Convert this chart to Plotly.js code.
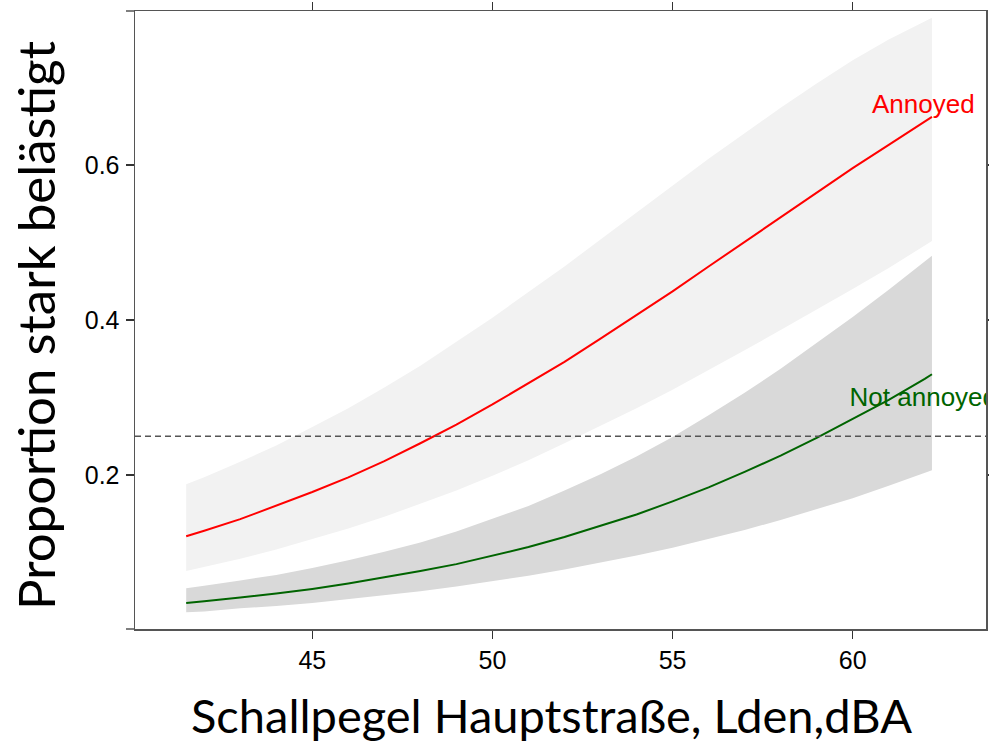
<!DOCTYPE html>
<html>
<head>
<meta charset="utf-8">
<script src="https://cdn.plot.ly/plotly-3.0.1.min.js"></script>
<style>
  html, body { margin: 0; padding: 0; background: #fff; }
  #plot { width: 989px; height: 745px; }
</style>
</head>
<body>
<div id="plot"></div>
<script>
// Road noise level (Lden, dBA) at which the curves are evaluated
const lden = [41.5, 42, 43, 44, 45, 46, 47, 48, 49, 50, 51, 52, 53, 54, 55,
              56, 57, 58, 59, 60, 61, 62, 62.2];

// Group "Annoyed": fitted proportion highly annoyed and its confidence band
const annoyedFit = [0.121, 0.128, 0.143, 0.160, 0.178, 0.197, 0.218, 0.241, 0.265, 0.291,
                    0.318, 0.346, 0.376, 0.406, 0.437, 0.469, 0.501, 0.533, 0.565, 0.596,
                    0.626, 0.656, 0.662];
const annoyedLow = [0.076, 0.081, 0.092, 0.104, 0.117, 0.131, 0.146, 0.163, 0.180, 0.199,
                    0.219, 0.241, 0.263, 0.286, 0.310, 0.335, 0.361, 0.387, 0.413, 0.440,
                    0.467, 0.496, 0.502];
const annoyedHigh = [0.188, 0.197, 0.217, 0.238, 0.262, 0.286, 0.313, 0.341, 0.372, 0.403,
                     0.436, 0.469, 0.504, 0.539, 0.573, 0.608, 0.641, 0.674, 0.705, 0.735,
                     0.762, 0.786, 0.790];

// Group "Not annoyed": fitted proportion and confidence band
const notAnnoyedFit = [0.035, 0.037, 0.042, 0.047, 0.053, 0.060, 0.068, 0.076, 0.085, 0.096,
                       0.107, 0.120, 0.134, 0.149, 0.166, 0.184, 0.204, 0.225, 0.248, 0.272,
                       0.297, 0.324, 0.330];
const notAnnoyedLow = [0.023, 0.024, 0.028, 0.031, 0.035, 0.040, 0.045, 0.050, 0.056, 0.063,
                       0.070, 0.078, 0.087, 0.096, 0.106, 0.117, 0.129, 0.142, 0.156, 0.170,
                       0.186, 0.203, 0.206];
const notAnnoyedHigh = [0.054, 0.057, 0.064, 0.071, 0.080, 0.090, 0.101, 0.113, 0.127, 0.143,
                        0.160, 0.180, 0.201, 0.224, 0.249, 0.277, 0.306, 0.337, 0.370, 0.404,
                        0.439, 0.476, 0.483];

// Threshold for "highly annoyed"
const threshold = 0.25;

// Tick marks
const xTicks = [45, 50, 55, 60];
const yTicks = [0.2, 0.4, 0.6];
const yTickText = ['0.2', '0.4', '0.6'];

// Curve labels (clipped at the plot edge like the rest of the panel)
const groupLabels = ['Annoyed', 'Not annoyed'];
const labelX = [61.96, 61.96];
const labelY = [0.676, 0.297];

const bandTrace = (y, fill, color) => ({
  x: lden, y: y, type: 'scatter', mode: 'lines',
  line: {width: 0, color: color}, fill: fill, fillcolor: color,
  hoverinfo: 'skip', showlegend: false
});

const traces = [
  bandTrace(annoyedLow, 'none', '#f2f2f2'),
  bandTrace(annoyedHigh, 'tonexty', '#f2f2f2'),
  bandTrace(notAnnoyedLow, 'none', '#d9d9d9'),
  bandTrace(notAnnoyedHigh, 'tonexty', '#d9d9d9'),
  {x: lden, y: annoyedFit, type: 'scatter', mode: 'lines',
   line: {color: '#ff0000', width: 2}, showlegend: false},
  {x: lden, y: notAnnoyedFit, type: 'scatter', mode: 'lines',
   line: {color: '#006400', width: 2}, showlegend: false},
  {x: [labelX[0]], y: [labelY[0]], text: [groupLabels[0]], type: 'scatter', mode: 'text',
   textposition: 'middle center', cliponaxis: true,
   textfont: {family: 'Liberation Sans, Arial, sans-serif', size: 26, color: '#ff0000'},
   showlegend: false, hoverinfo: 'skip'},
  {x: [labelX[1]], y: [labelY[1]], text: [groupLabels[1]], type: 'scatter', mode: 'text',
   textposition: 'middle center', cliponaxis: true,
   textfont: {family: 'Liberation Sans, Arial, sans-serif', size: 26, color: '#006400'},
   showlegend: false, hoverinfo: 'skip'}
];

const axisCommon = {
  showline: true, linecolor: '#555555', linewidth: 1.5,
  mirror: 'ticks', ticks: 'outside', ticklen: 8, tickwidth: 1.3, tickcolor: '#333333',
  showgrid: false, zeroline: false,
  tickfont: {family: 'Liberation Sans, Arial, sans-serif', size: 25, color: '#000000'}
};

const layout = {
  width: 989, height: 745,
  margin: {l: 135, r: 3, t: 11, b: 116},
  paper_bgcolor: '#ffffff', plot_bgcolor: '#ffffff',
  showlegend: false,
  xaxis: Object.assign({}, axisCommon, {
    range: [40.079, 63.70], tickvals: xTicks, ticktext: xTicks.map(String)
  }),
  yaxis: Object.assign({}, axisCommon, {
    range: [0.0013, 0.7987], tickvals: yTicks, ticktext: yTickText,
    ticklabelstandoff: 1
  }),
  shapes: [
    {type: 'line', xref: 'paper', yref: 'y', x0: 0, x1: 1, y0: threshold, y1: threshold,
     line: {color: '#555555', width: 1.5, dash: '6px,4px'}},
    {type: 'line', xref: 'paper', yref: 'paper', x0: -0.0106, x1: 0, y0: 0, y1: 0,
     line: {color: '#555555', width: 1.5}},
    {type: 'line', xref: 'paper', yref: 'paper', x0: -0.0106, x1: 0, y0: 1, y1: 1,
     line: {color: '#555555', width: 1.5}}
  ],
  annotations: [
    {text: 'Schallpegel Hauptstraße, Lden,dBA', xref: 'paper', yref: 'paper',
     x: 0.4895, y: -0.139, xanchor: 'center', yanchor: 'middle', showarrow: false,
     font: {family: 'Lato, sans-serif', size: 47, color: '#000000'}},
    {text: 'Proportion stark belästigt', xref: 'paper', yref: 'paper',
     x: -0.117, y: 0.491, xanchor: 'center', yanchor: 'middle', textangle: -90, showarrow: false,
     font: {family: 'Lato, sans-serif', size: 51, color: '#000000'}}
  ]
};

Plotly.newPlot('plot', traces, layout, {displayModeBar: false, staticPlot: true});
</script>
</body>
</html>
